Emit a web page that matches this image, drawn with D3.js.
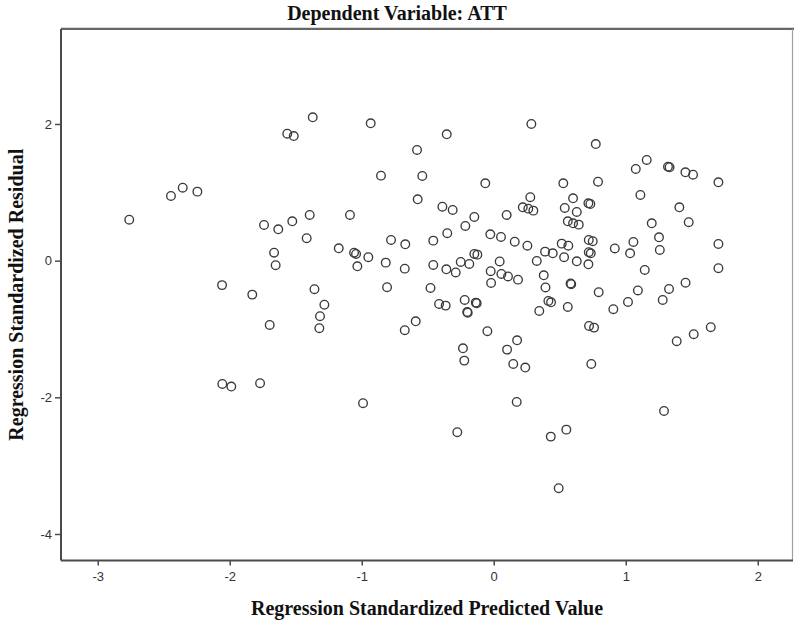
<!DOCTYPE html>
<html>
<head>
<meta charset="utf-8">
<script src="https://cdn.jsdelivr.net/npm/d3@7"></script>
<style>
  body { margin: 0; background: #fff; }
  svg { display: block; }
</style>
</head>
<body>
<svg id="chart" width="794" height="621"></svg>
<script>
// Regression standardized predicted values (x) and residuals (y), one entry per case
const predicted = [
  -2.761, -2.445, -2.356, -2.245, -2.058, -2.056, -1.988, -1.371, -1.564, -1.515,
  -0.932, -0.581, -0.854, -0.541, -0.576, -1.394, -1.089, -1.740, -1.632, -1.526,
  -1.417, -0.778, -0.670, -0.458, -1.664, -1.652, -1.174, -1.058, -1.043, -0.950,
  -1.033, -0.818, -0.674, -0.458, -1.358, -0.808, -0.479, -1.829, -1.283, -1.316,
  -1.321, -1.697, -0.591, -0.674, -1.770, -0.990,
  0.285, -0.356, 0.773, -0.064, 0.527, 0.790, 0.277, 0.601, 0.717, 0.732,
  0.220, 0.262, 0.300, 0.538, 0.629, -0.389, -0.311, -0.147, 0.098, -0.215,
  -0.352, 0.561, 0.601, 0.644, -0.026, 0.055, 0.159, 0.255, 0.515, 0.565,
  0.720, 0.750, 0.917, -0.147, -0.124, 0.389, 0.447, 0.720, 0.735, -0.359,
  -0.288, -0.250, -0.185, 0.045, -0.023, 0.058, 0.108, 0.184, 0.326, 0.533,
  0.629, 0.717, 0.379, -0.020, 0.392, 0.582, 0.587, 0.795, 0.906, -0.414,
  -0.364, -0.220, -0.129, -0.136, -0.197, -0.201, -0.048, 0.177, 0.101, -0.233,
  -0.223, 0.148, 0.239, 0.345, 0.414, 0.434, 0.561, 0.722, 0.760, 0.739,
  0.174, -0.276, 0.432, 0.550, 0.492,
  1.159, 1.076, 1.320, 1.332, 1.452, 1.510, 1.702, 1.111, 1.406, 1.197,
  1.477, 1.252, 1.058, 1.033, 1.258, 1.702, 1.144, 1.702, 1.453, 1.328,
  1.092, 1.017, 1.280, 1.386, 1.515, 1.644, 1.290
];
const residual = [
  0.600, 0.947, 1.068, 1.010, -0.358, -1.804, -1.843, 2.098, 1.858, 1.824,
  2.010, 1.620, 1.244, 1.239, 0.898, 0.669, 0.669, 0.522, 0.459, 0.576,
  0.328, 0.303, 0.240, 0.293, 0.117, -0.067, 0.181, 0.117, 0.098, 0.050,
  -0.082, -0.029, -0.117, -0.063, -0.418, -0.388, -0.399, -0.497, -0.644, -0.813,
  -0.989, -0.941, -0.887, -1.018, -1.794, -2.086,
  2.000, 1.849, 1.707, 1.132, 1.132, 1.156, 0.928, 0.913, 0.840, 0.830,
  0.781, 0.761, 0.732, 0.771, 0.713, 0.790, 0.742, 0.639, 0.669, 0.508,
  0.401, 0.576, 0.547, 0.527, 0.386, 0.347, 0.278, 0.219, 0.249, 0.219,
  0.303, 0.284, 0.178, 0.098, 0.088, 0.132, 0.108, 0.123, 0.108, -0.126,
  -0.173, -0.019, -0.048, -0.012, -0.154, -0.195, -0.231, -0.278, -0.004, 0.050,
  -0.009, -0.053, -0.214, -0.326, -0.392, -0.334, -0.344, -0.462, -0.711, -0.634,
  -0.658, -0.575, -0.623, -0.614, -0.761, -0.751, -1.033, -1.165, -1.302, -1.282,
  -1.463, -1.511, -1.565, -0.736, -0.590, -0.609, -0.677, -0.955, -0.980, -1.511,
  -2.067, -2.511, -2.575, -2.473, -3.330,
  1.473, 1.342, 1.375, 1.367, 1.293, 1.258, 1.147, 0.961, 0.781, 0.547,
  0.562, 0.342, 0.274, 0.108, 0.157, 0.244, -0.136, -0.111, -0.322, -0.414,
  -0.436, -0.604, -0.575, -1.179, -1.077, -0.974, -2.199
];
const xTicks = [-3, -2, -1, 0, 1, 2];
const yTicks = [-4, -2, 0, 2];
const chartTitle = "Dependent Variable: ATT";
const xTitle = "Regression Standardized Predicted Value";
const yTitle = "Regression Standardized Residual";

const points = predicted.map((v, i) => ({ x: v, y: residual[i] }));

const W = 794, H = 621;
const plot = { left: 61, right: 793, top: 29, bottom: 560.5 };

const x = d3.scaleLinear().domain([-3.278, 2.267]).range([plot.left, plot.right]);
const y = d3.scaleLinear().domain([-4.388, 3.39]).range([plot.bottom, plot.top]);

const svg = d3.select("#chart");

// chart frame: light shadow line above, dark top edge, pale right edge
svg.append("line")
  .attr("x1", plot.left).attr("x2", W).attr("y1", plot.top - 1.5).attr("y2", plot.top - 1.5)
  .attr("stroke", "#d8d8d8").attr("stroke-width", 1.2);
svg.append("line")
  .attr("x1", plot.left).attr("x2", W).attr("y1", plot.top).attr("y2", plot.top)
  .attr("stroke", "#333").attr("stroke-width", 1.4);
svg.append("line")
  .attr("x1", plot.right - 0.5).attr("x2", plot.right - 0.5).attr("y1", plot.top).attr("y2", plot.bottom)
  .attr("stroke", "#a0a0a0").attr("stroke-width", 1.2);

// axes; tick labels use a plain hyphen for negatives
const tickFont = "'Liberation Sans', Arial, sans-serif";
const plainInt = d => String(d);

const xAxis = svg.append("g")
  .attr("transform", `translate(0,${plot.bottom})`)
  .call(d3.axisBottom(x).tickValues(xTicks).tickSize(5).tickPadding(6).tickFormat(plainInt));
const yAxis = svg.append("g")
  .attr("transform", `translate(${plot.left},0)`)
  .call(d3.axisLeft(y).tickValues(yTicks).tickSize(6).tickPadding(3).tickFormat(plainInt));

[xAxis, yAxis].forEach(g => {
  g.select(".domain").attr("stroke", "#4a4a4a").attr("stroke-width", 2);
  g.selectAll(".tick line").attr("stroke", "#4a4a4a").attr("stroke-width", 1.5);
  g.selectAll(".tick text")
    .attr("fill", "#333")
    .style("font-family", tickFont)
    .style("font-size", "13px");
});
// keep the axis lines spanning the whole frame
xAxis.select(".domain").attr("d", `M${plot.left},0H${plot.right}`);
yAxis.select(".domain").attr("d", `M0,${plot.top}V${plot.bottom}`);

// scatter markers
svg.append("g")
  .selectAll("circle")
  .data(points)
  .join("circle")
  .attr("cx", d => x(d.x))
  .attr("cy", d => y(d.y))
  .attr("r", 4.3)
  .attr("fill", "none")
  .attr("stroke", "#3a3a3a")
  .attr("stroke-width", 1.35);

// titles
const serif = "'Liberation Serif', 'Times New Roman', serif";
svg.append("text")
  .attr("x", W / 2).attr("y", 20)
  .attr("text-anchor", "middle")
  .style("font-family", serif).style("font-weight", "bold").style("font-size", "20px")
  .attr("fill", "#111")
  .text(chartTitle);

svg.append("text")
  .attr("x", (plot.left + plot.right) / 2).attr("y", 615)
  .attr("text-anchor", "middle")
  .style("font-family", serif).style("font-weight", "bold").style("font-size", "20px")
  .attr("fill", "#111")
  .text(xTitle);

svg.append("text")
  .attr("transform", `translate(23,${(plot.top + plot.bottom) / 2}) rotate(-90)`)
  .attr("text-anchor", "middle")
  .style("font-family", serif).style("font-weight", "bold").style("font-size", "20px")
  .attr("fill", "#111")
  .text(yTitle);
</script>
</body>
</html>
